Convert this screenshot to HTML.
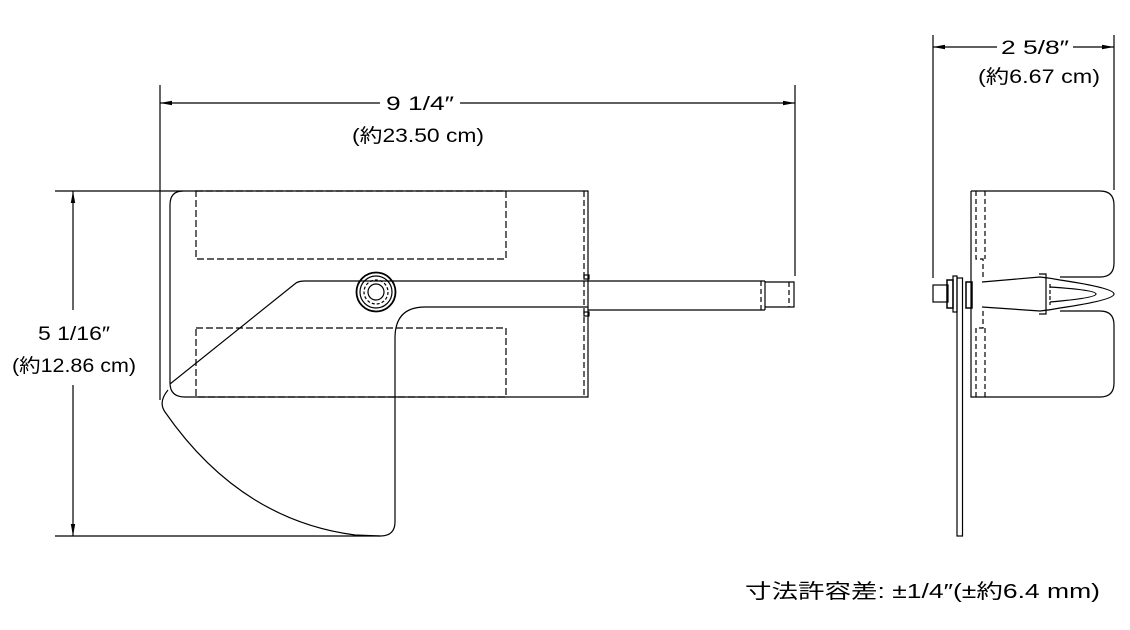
<!DOCTYPE html>
<html><head><meta charset="utf-8"><style>
html,body{margin:0;padding:0;background:#fff;}
svg{display:block;}
text{font-family:"Liberation Sans","Noto Sans CJK JP",sans-serif;fill:#000;}
</style></head><body>
<svg width="1130" height="630" viewBox="0 0 1130 630" xmlns="http://www.w3.org/2000/svg">
<defs>
<marker id="a" markerWidth="12" markerHeight="6" refX="12" refY="3" orient="auto-start-reverse" markerUnits="userSpaceOnUse"><path d="M0,0.8 L12,3 L0,5.2 Z" fill="#000"/></marker>
</defs>
<g stroke="#000" stroke-width="1.2" fill="none">
<line x1="160" y1="85" x2="160" y2="400"/>
<line x1="795" y1="85" x2="795" y2="276"/>
<line x1="55" y1="191" x2="183" y2="191"/>
<line x1="55" y1="536" x2="380" y2="536"/>
<line x1="160" y1="103" x2="380" y2="103" marker-start="url(#a)"/>
<line x1="460" y1="103" x2="795" y2="103" marker-end="url(#a)"/>
<line x1="73" y1="191" x2="73" y2="310" marker-start="url(#a)"/>
<line x1="73" y1="385" x2="73" y2="536" marker-end="url(#a)"/>
<path d="M183,191 L588,191 L588,397 L185,397 Q170,397 170,383 L170,205 Q170,191 183,191"/>
<line x1="584" y1="191" x2="584" y2="397" stroke-dasharray="6,3"/>
<rect x="196" y="191" width="310" height="68" stroke-dasharray="7,3"/>
<rect x="196" y="328" width="310" height="69" stroke-dasharray="7,3"/>
<path d="M170,384 L296,283 Q299,281 305,281 L765,281"/>
<path d="M588,307 L425,307 Q395,307 395,338 L395,522 Q395,536 380,536 L355,535 Q240,520 165,412 Q158,402 168,390"/>
<line x1="588" y1="310" x2="765" y2="310"/>
<line x1="765" y1="281" x2="765" y2="310"/>
<line x1="761" y1="281" x2="761" y2="310" stroke-dasharray="5,3"/>
<path d="M765,282 L794,282 L794,307 L765,307"/>
<line x1="789" y1="282" x2="789" y2="307" stroke-dasharray="5,3"/>
<rect x="584" y="275" width="5" height="4"/>
<rect x="584" y="312" width="5" height="4"/>
<circle cx="376" cy="292" r="19.5" stroke-width="1.8"/>
<circle cx="376" cy="292" r="16"/>
<circle cx="376" cy="292" r="12" stroke-dasharray="3,2"/>
<circle cx="376" cy="292" r="8"/>
<line x1="933" y1="35" x2="933" y2="278"/>
<line x1="1114" y1="35" x2="1114" y2="190"/>
<line x1="933" y1="47" x2="997" y2="47" marker-start="url(#a)"/>
<line x1="1073" y1="47" x2="1114" y2="47" marker-end="url(#a)"/>
<path d="M971,191 L1100,191 Q1114,191 1114,205 L1114,263 Q1114,277 1100,277 L1060,277"/>
<path d="M1060,311 L1100,311 Q1114,311 1114,325 L1114,383 Q1114,397 1100,397 L971,397 L971,191"/>
<path d="M976,191 L976,259 L983,259 L983,277 M983,311 L983,328 L976,328 L976,397" stroke-dasharray="5,3"/>
<path d="M985,191 L985,259 M985,328 L985,397" stroke-dasharray="5,3"/>
<rect x="957" y="278" width="5.5" height="258"/>
<rect x="933" y="285" width="15" height="17"/>
<rect x="953" y="276" width="4" height="36"/>
<rect x="947" y="280" width="6" height="28" stroke-width="1.5"/>
<rect x="966" y="282" width="6" height="26" stroke-width="1.5"/>
<path d="M982,282 L1040,277 Q1050,278 1060,280 Q1114,288 1114,294 Q1114,300 1060,308 Q1050,310 1040,311 L982,307"/>
<path d="M1050,287 Q1096,290 1096,294 Q1096,298 1050,302"/>
<path d="M1039,274 L1046,274 L1046,314 L1039,314"/>
<line x1="1050" y1="284" x2="1050" y2="305" stroke-dasharray="4,2"/>
</g>
<g font-size="19">
<text x="386" y="110" textLength="68" lengthAdjust="spacingAndGlyphs">9 1/4″</text>
<text x="352" y="142" textLength="132" lengthAdjust="spacingAndGlyphs">(約23.50 cm)</text>
<text x="38" y="340" textLength="72" lengthAdjust="spacingAndGlyphs">5 1/16″</text>
<text x="12" y="372" textLength="124" lengthAdjust="spacingAndGlyphs">(約12.86 cm)</text>
<text x="1001" y="54" textLength="68" lengthAdjust="spacingAndGlyphs">2 5/8″</text>
<text x="978" y="83" textLength="122" lengthAdjust="spacingAndGlyphs">(約6.67 cm)</text>
<text x="745" y="598" font-size="20" textLength="355" lengthAdjust="spacingAndGlyphs">寸法許容差: ±1/4″(±約6.4 mm)</text>
</g>
</svg>
</body></html>
